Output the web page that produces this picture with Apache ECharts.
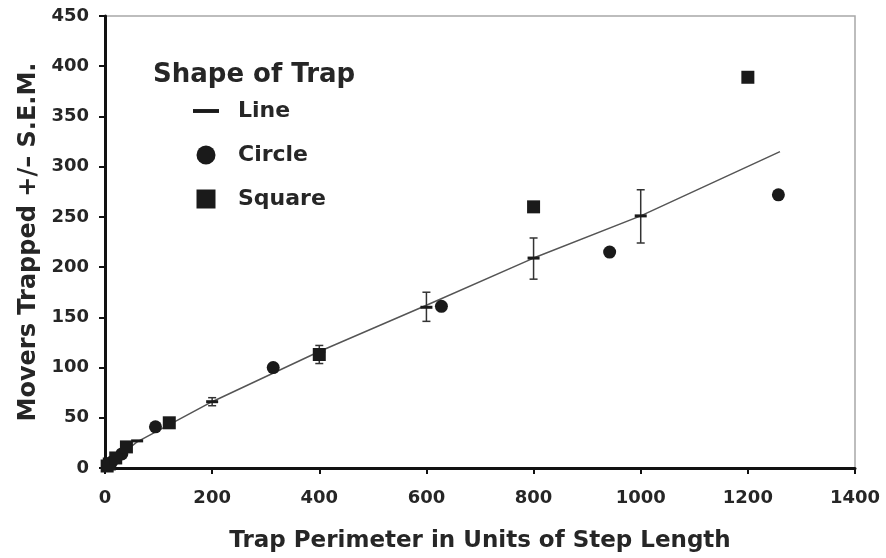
<!DOCTYPE html>
<html><head><meta charset="utf-8">
<script src="https://cdn.jsdelivr.net/npm/echarts@6/dist/echarts.min.js"></script>
<style>html,body{margin:0;padding:0;background:#fff}#c{width:886px;height:558px}</style>
</head><body><div id="c"></div>
<script>
// Line-shaped traps: mean movers trapped and S.E.M. range
const lineX    = [10, 20, 60, 200, 400, 600, 800, 1000];
const lineMean = [5, 9, 27, 66, 116, 160, 209, 251];
const errX     = [200, 400, 600, 800, 1000];
const errLow   = [62, 104, 146, 188, 224];
const errHigh  = [70, 122, 175, 229, 277];
// Circle-shaped traps
const circleX = [6.3, 12.6, 31.4, 94.2, 314, 628, 942, 1257];
const circleY = [3, 6, 14, 41, 100, 161, 215, 272];
// Square-shaped traps
const squareX = [4, 8, 20, 40, 120, 400, 800, 1200];
const squareY = [2, 4, 10, 21, 45, 113, 260, 389];
// Fitted line
const fitX = [5, 60, 200, 400, 600, 800, 1000, 1260];
const fitY = [3, 26, 66, 116, 162, 209, 251, 315];
// Axis ticks
const xTicks = [0, 200, 400, 600, 800, 1000, 1200, 1400];
const yTicks = [0, 50, 100, 150, 200, 250, 300, 350, 400, 450];

const zip = (a, b) => a.map((v, i) => [v, b[i]]);
const FONT = '"DejaVu Sans", "Liberation Sans", Arial, sans-serif';
const TXT = '#262626';
const chart = echarts.init(document.getElementById('c'), null, {renderer: 'canvas'});
chart.setOption({
  animation: false,
  backgroundColor: '#fff',
  title: {
    text: 'Shape of Trap', left: 148, top: 57,
    textStyle: {fontFamily: FONT, fontSize: 26, fontWeight: 'bold', color: TXT}
  },
  legend: {
    orient: 'vertical', left: 188, top: 95, itemGap: 22,
    itemWidth: 26, itemHeight: 19, symbolKeepAspect: true,
    textStyle: {fontFamily: FONT, fontSize: 22, fontWeight: 'bold', color: TXT, padding: [0, 0, 0, 14]},
    data: [
      {name: 'Line', icon: 'path://M0,0h20v3h-20z'},
      {name: 'Circle', icon: 'path://M5,0A5,5,0,1,1,5,10A5,5,0,1,1,5,0z'},
      {name: 'Square', icon: 'path://M0,0h10v10h-10z'}
    ]
  },
  grid: {left: 105, right: 31, top: 16, bottom: 90, show: true, borderColor: '#a8a8a8', borderWidth: 1.5},
  xAxis: {
    type: 'value', min: xTicks[0], max: xTicks[xTicks.length - 1], interval: 200,
    name: 'Trap Perimeter in Units of Step Length', nameLocation: 'middle', nameGap: 62,
    nameTextStyle: {fontFamily: FONT, fontSize: 23, fontWeight: 'bold', color: TXT},
    axisLine: {lineStyle: {color: '#111', width: 3}},
    axisTick: {length: 6, lineStyle: {color: '#111', width: 2}},
    axisLabel: {fontFamily: FONT, fontSize: 18, fontWeight: 'bold', color: TXT, margin: 21,
                formatter: v => String(v)},
    splitLine: {show: false}
  },
  yAxis: {
    type: 'value', min: yTicks[0], max: yTicks[yTicks.length - 1], interval: 50,
    name: 'Movers Trapped +/\u2013 S.E.M.', nameLocation: 'middle', nameGap: 64, nameRotate: 90,
    nameTextStyle: {fontFamily: FONT, fontSize: 24, fontWeight: 'bold', color: TXT},
    axisLine: {lineStyle: {color: '#111', width: 3}},
    axisTick: {length: 6, lineStyle: {color: '#111', width: 2}},
    axisLabel: {fontFamily: FONT, fontSize: 18, fontWeight: 'bold', color: TXT, margin: 16,
                formatter: v => String(v)},
    splitLine: {show: false}
  },
  series: [
    {
      name: 'fit', type: 'line', data: zip(fitX, fitY), symbol: 'none',
      lineStyle: {color: '#555', width: 1.5}, z: 1
    },
    {
      name: 'err', type: 'custom',
      data: errX.map((x, i) => [x, errLow[i], errHigh[i]]),
      renderItem: function (params, api) {
        const lo = api.coord([api.value(0), api.value(1)]);
        const hi = api.coord([api.value(0), api.value(2)]);
        const w = 4;
        const st = {stroke: '#333', lineWidth: 1.5};
        return {type: 'group', children: [
          {type: 'line', shape: {x1: lo[0], y1: lo[1], x2: hi[0], y2: hi[1]}, style: st},
          {type: 'line', shape: {x1: lo[0] - w, y1: lo[1], x2: lo[0] + w, y2: lo[1]}, style: st},
          {type: 'line', shape: {x1: hi[0] - w, y1: hi[1], x2: hi[0] + w, y2: hi[1]}, style: st}
        ]};
      }, z: 2
    },
    {
      name: 'Line', type: 'scatter', data: zip(lineX, lineMean),
      symbol: 'rect', symbolSize: [12, 3], itemStyle: {color: '#1a1a1a', opacity: 1}, z: 3
    },
    {
      name: 'Circle', type: 'scatter', data: zip(circleX, circleY),
      symbol: 'circle', symbolSize: 13, itemStyle: {color: '#1a1a1a', opacity: 1}, z: 3
    },
    {
      name: 'Square', type: 'scatter', data: zip(squareX, squareY),
      symbol: 'rect', symbolSize: 13, itemStyle: {color: '#1a1a1a', opacity: 1}, z: 3
    }
  ]
});
</script></body></html>
